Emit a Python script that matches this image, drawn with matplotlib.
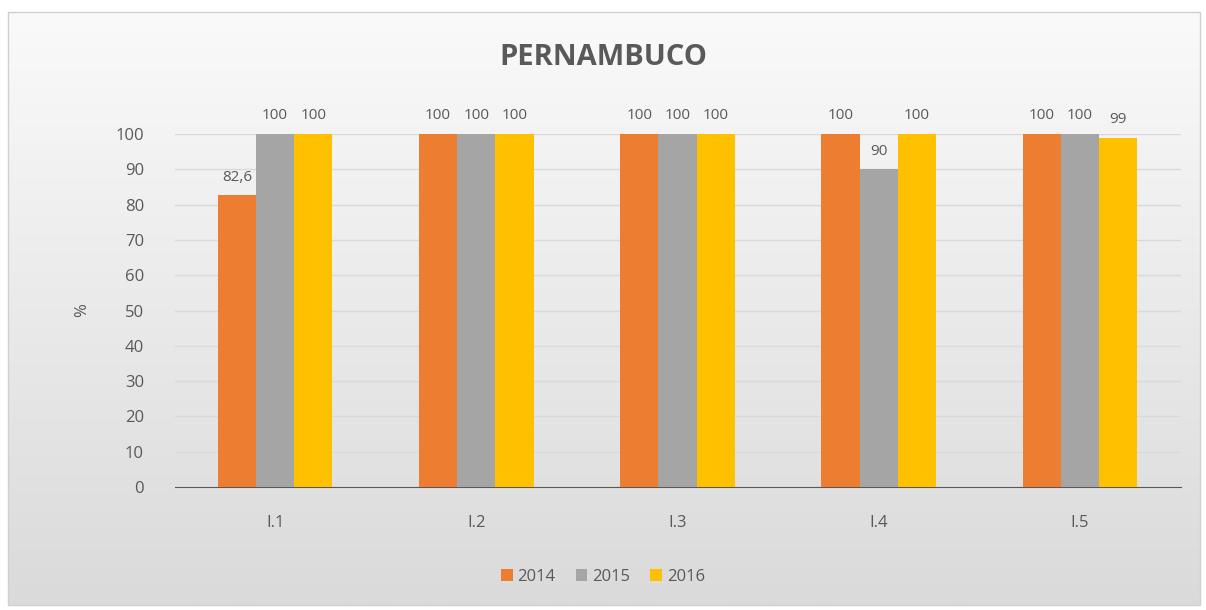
import numpy as np
import matplotlib
matplotlib.use("Agg")
import matplotlib.pyplot as plt
from matplotlib.patches import Rectangle

categories = ["I.1", "I.2", "I.3", "I.4", "I.5"]
years = ["2014", "2015", "2016"]
v2014 = [82.6, 100, 100, 100, 100]
v2015 = [100, 100, 100, 90, 100]
v2016 = [100, 100, 100, 100, 99]
colors = ["#ED7D31", "#A5A5A5", "#FFC000"]

plt.rcParams['font.family'] = ['Open Sans', 'DejaVu Sans']
txt = "#595959"

fig = plt.figure(figsize=(12.06, 6.10), dpi=100)
fig.patch.set_facecolor("white")

# chart area: gradient background inside a light border
x0, y0, x1, y1 = 8 / 1206, 5 / 610, 1200 / 1206, 598 / 610
bg = fig.add_axes([0, 0, 1, 1], zorder=-10)
grad = np.linspace(0, 1, 256).reshape(-1, 1)
cmap = matplotlib.colors.LinearSegmentedColormap.from_list("g", ["#fafafa", "#dadada"])
bg.imshow(grad, aspect='auto', cmap=cmap, extent=[x0, x1, y0, y1], origin='upper')
bg.add_patch(Rectangle((x0, y0), x1 - x0, y1 - y0, fill=False,
                       edgecolor="#d0d0d0", lw=1))
bg.set_xlim(0, 1); bg.set_ylim(0, 1)
bg.axis('off')

ax = fig.add_axes([0.1447, 0.2016, 0.8342, 0.5787])
ax.patch.set_alpha(0)
x = np.arange(len(categories))
w = 0.19
for i, (vals, c) in enumerate(zip([v2014, v2015, v2016], colors)):
    pos = x + (i - 1) * w
    ax.bar(pos, vals, width=w, color=c, label=years[i], zorder=3)
    for p, v in zip(pos, vals):
        lab = ("%g" % v).replace(".", ",")
        ax.text(p, v + 3, lab, ha='center', va='bottom', fontsize=11, color=txt, zorder=4)

ax.set_xlim(-0.5, len(categories) - 0.5)
ax.set_ylim(0, 100)
ax.set_yticks(range(0, 101, 10))
ax.yaxis.grid(True, color="#d9d9d9", lw=1, zorder=0)
ax.set_axisbelow(True)
for s in ['top', 'right', 'left']:
    ax.spines[s].set_visible(False)
ax.spines['bottom'].set_color("#595959")
ax.tick_params(axis='both', length=0, labelsize=12, colors=txt)
ax.tick_params(axis='x', pad=20)
ax.tick_params(axis='y', pad=22)
ax.set_xticks(x)
ax.set_xticklabels(categories)
ax.set_ylabel("%", fontsize=12, color=txt, labelpad=18)

fig.text(0.5, 0.905, "PERNAMBUCO", ha='center', va='center', fontsize=21,
         fontweight='bold', color=txt)
fig.legend(loc='center', bbox_to_anchor=(0.5, 0.054), ncol=3, frameon=False,
           fontsize=12, labelcolor=txt, handlelength=0.7, handleheight=0.7,
           handletextpad=0.3, columnspacing=1.2)

fig.savefig("out.png", dpi=100)
